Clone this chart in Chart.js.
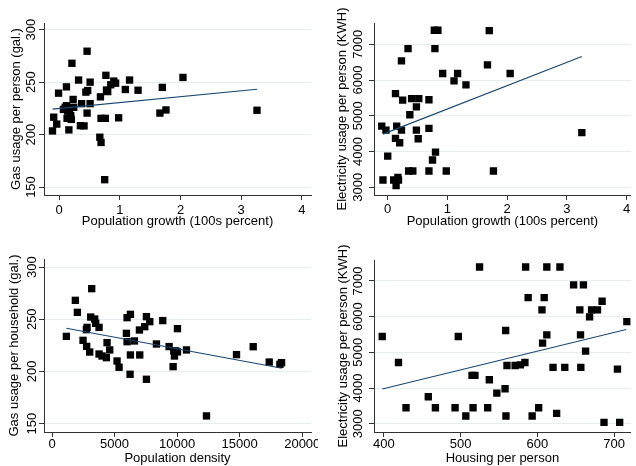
<!DOCTYPE html>
<html>
<head>
<meta charset="utf-8">
<script src="https://cdn.jsdelivr.net/npm/chart.js@4"></script>
<style>
  body { margin: 0; background: #fff; }
  #wrap { position: relative; width: 636px; height: 466px; }
  canvas { position: absolute; }
</style>
</head>
<body>
<div id="wrap">
  <canvas id="gasGrowth" width="318" height="233" style="left:0;top:0"></canvas>
  <canvas id="elecGrowth" width="318" height="233" style="left:318px;top:0"></canvas>
  <canvas id="gasDensity" width="318" height="233" style="left:0;top:233px"></canvas>
  <canvas id="elecHousing" width="318" height="233" style="left:318px;top:233px"></canvas>
</div>
<script>
// top left: population growth vs gas usage per person
const growthA = [0.46, 0.21, 0.77, 0.32, 0.51, 0.90, 0.93, 1.16, 2.04, 0.12, -0.01, 1.70, 1.09, 1.30, 0.47, 0.44,
  0.85, 0.78, 0.80, 0.68, 0.23, 0.37, 0.51, 0.12, 0.07, 0.24, 0.14, 0.17, 0.46, 1.66, 1.76, 3.26,
  0.69, 0.76, 0.98, -0.09, -0.04, -0.11, 0.16, 0.13, 0.20, 0.35, 0.41, 0.67, 0.69, 0.75, 0.10, 0.19];
const gasPerPerson = [279.5, 268, 256.5, 252, 250, 251, 249, 252, 254.5, 245.5, 239.5, 245, 243, 242.3, 242, 240.5,
  247.5, 242.5, 241, 236, 233.5, 229.5, 229.5, 227.5, 224, 226, 222.5, 219, 220.5, 220.5, 223.5, 223.2,
  215.5, 215.5, 216, 216.6, 210, 203.5, 204.5, 215.5, 214.5, 208.5, 208.3, 197.5, 192.5, 157, 226, 218];
const gasGrowthFit = [[-0.11, 224.3], [3.26, 243.3]];

// top right: population growth vs electricity usage per person
const growthB = [0.78, 0.84, 1.70, 0.34, 0.79, 0.23, 0.92, 1.17, 1.11, 1.31, 1.67, 2.05, 0.13, 0.25, 0.40, 0.52,
  0.69, 0.48, 0.37, -0.10, -0.03, 0.15, 0.23, 0.48, 0.69, 0.13, 0.20, 0.51, 0.00, 0.80, 0.75, 0.35,
  0.42, 0.69, 0.98, 1.77, -0.08, 0.10, 0.17, 0.14, 0.18, 3.25];
const elecPerPerson = [7390, 7390, 7381, 6879, 6879, 6535, 6182, 6182, 5977, 5865, 6423, 6182, 5620, 5440, 5480, 5480,
  5450, 5250, 5028, 4712, 4600, 4712, 4600, 4600, 4647, 4367, 4247, 4358, 3874, 3986, 3763, 3456,
  3456, 3456, 3456, 3456, 3205, 3205, 3280, 3050, 3200, 4530];
const elecGrowthFit = [[-0.08, 4488], [3.25, 6656]];

// bottom left: population density vs gas usage per household
const density = [3173, 1867, 2027, 1147, 3093, 3413, 3493, 3760, 2800, 2750, 2480, 2773, 3013, 3760, 4000, 4347,
  4400, 4613, 5200, 5360, 5947, 6000, 6267, 6240, 6000, 6267, 6587, 7013, 7547, 6987, 7413, 7547,
  7813, 8853, 8347, 9360, 10027, 9733, 9893, 9787, 9680, 10027, 10747, 14747, 16080, 17360, 18347, 18213, 12347];
const gasPerHousehold = [279.3, 268.1, 256.6, 233.6, 252.1, 250.2, 246.1, 242.2, 242.2, 240, 229.8, 224, 218.6, 216.7, 214.8, 213.2,
  227.6, 220.6, 210, 204, 236.5, 228.5, 215.8, 197.3, 251.5, 254.7, 229.2, 215.8, 192.5, 239.7, 242.9, 252.5,
  247.7, 248.7, 226.3, 223.8, 241, 219.6, 219.6, 214.8, 204.6, 218.7, 220.6, 216.1, 223.7, 209, 208.4, 206.8, 157.4];
const gasDensityFit = [[1147, 241.3], [18373, 203]];

// bottom right: housing per person vs electricity usage per person
const housing = [524.7, 584.7, 612.3, 629.4, 647.2, 660, 588, 608.9, 684.3, 606, 655.3, 670.6, 678.3, 668, 716.6, 397.9,
  497, 558.7, 612.3, 656.2, 606.8, 662.8, 419.1, 560.4, 571, 577.9, 583.8, 620.4, 635.7, 656.6, 704.3, 514.9,
  518.7, 537.4, 557.9, 457.9, 547.2, 428.9, 467.2, 492.8, 516.2, 535.3, 601.7, 506.8, 559.1, 593.2, 625.1, 686.8, 707.2];
const elecPerPerson2 = [7392, 7392, 7392, 7392, 6888, 6888, 6534, 6534, 6431, 6189, 6189, 6189, 6189, 5993, 5862, 5443,
  5443, 5611, 5490, 5490, 5256, 5033, 4716, 4632, 4632, 4650, 4716, 4576, 4576, 4576, 4529, 4352,
  4352, 4231, 3979, 3755, 3858, 3448, 3448, 3448, 3448, 3448, 3448, 3214, 3214, 3214, 3289, 3037, 3037];
const elecHousingFit = [[397.9, 3970], [715.7, 5639]];

const growthTicks = [0, 1, 2, 3, 4];
const gasTicks = [150, 200, 250, 300];
const elecTicks = [3000, 4000, 5000, 6000, 7000];
const densityTicks = [0, 5000, 10000, 15000, 20000];
const housingTicks = [400, 500, 600, 700];

const FONT = { family: '"Liberation Sans", Arial, sans-serif', size: 13 };
const AXIS = '#333333';

// y tick labels in this chart read bottom-to-top, so draw them rotated ourselves
const rotatedYLabels = {
  id: 'rotatedYLabels',
  afterDraw(chart, args, opts) {
    const y = chart.scales.y;
    const ctx = chart.ctx;
    ctx.save();
    ctx.fillStyle = '#000';
    ctx.font = FONT.size + 'px ' + FONT.family;
    ctx.textAlign = 'center';
    ctx.textBaseline = 'middle';
    y.ticks.forEach(t => {
      ctx.save();
      ctx.translate(y.right - opts.offset, y.getPixelForValue(t.value));
      ctx.rotate(-Math.PI / 2);
      ctx.fillText(String(t.value), 0, 0);
      ctx.restore();
    });
    ctx.restore();
  }
};

function scatterPanel(id, xs, ys, fit, c) {
  const points = xs.map((x, i) => ({ x: x, y: ys[i] }));
  return new Chart(document.getElementById(id), {
    type: 'scatter',
    data: {
      datasets: [
        { data: points, pointStyle: 'rect', pointRadius: 5.2, backgroundColor: '#000', borderWidth: 0, order: 1 },
        { data: fit.map(p => ({ x: p[0], y: p[1] })), showLine: true, borderColor: '#1a476f', borderWidth: 1.1,
          pointRadius: 0, fill: false, order: 0 }
      ]
    },
    options: {
      responsive: false,
      animation: false,
      layout: { padding: { top: c.top, right: c.right, left: 0, bottom: 0 } },
      plugins: {
        legend: { display: false },
        tooltip: { enabled: false },
        rotatedYLabels: { offset: c.yLabelOffset }
      },
      scales: {
        x: {
          type: 'linear', min: c.xMin, max: c.xMax,
          afterBuildTicks: s => { s.ticks = c.xTicks.map(v => ({ value: v })); },
          afterFit: s => { s.height = c.xH; s.paddingLeft = 0; s.paddingRight = 0; },
          border: { color: AXIS, width: 1 },
          grid: { drawOnChartArea: false, tickLength: 5, tickColor: AXIS, tickWidth: 1 },
          ticks: { color: '#000', font: FONT, padding: c.xPad, maxRotation: 0, callback: v => v },
          title: { display: true, text: c.xTitle, color: '#000', font: FONT, padding: { top: 0, bottom: c.xTitlePad } }
        },
        y: {
          type: 'linear', min: c.yMin, max: c.yMax,
          afterBuildTicks: s => { s.ticks = c.yTicks.map(v => ({ value: v })); },
          afterFit: s => { s.width = c.yW; s.paddingTop = 0; s.paddingBottom = 0; },
          border: { color: AXIS, width: 1 },
          grid: { color: '#e4eef0', lineWidth: 1, tickLength: 5, tickColor: AXIS, tickWidth: 1 },
          ticks: { display: false },
          title: { display: true, text: c.yTitle, color: '#000', font: FONT, padding: { top: c.yTitlePad, bottom: 0 } }
        }
      }
    },
    plugins: [rotatedYLabels]
  });
}

scatterPanel('gasGrowth', growthA, gasPerPerson, gasGrowthFit, {
  top: 23, right: 7, xH: 38, yW: 44,
  xMin: -0.25, xMax: 4.15, yMin: 142.4, yMax: 306.4,
  xTicks: growthTicks, yTicks: gasTicks,
  xPad: 3, xTitlePad: 4, yTitlePad: 8.7, yLabelOffset: 13,
  xTitle: 'Population growth (100s percent)', yTitle: 'Gas usage per person (gal.)'
});

scatterPanel('elecGrowth', growthB, elecPerPerson, elecGrowthFit, {
  top: 23, right: 0, xH: 38, yW: 56,
  xMin: -0.23, xMax: 4.07, yMin: 2786, yMax: 7594,
  xTicks: growthTicks, yTicks: elecTicks,
  xPad: 1.5, xTitlePad: 4, yTitlePad: 17, yLabelOffset: 16,
  xTitle: 'Population growth (100s percent)', yTitle: 'Electricity usage per person (KWH)'
});

scatterPanel('gasDensity', density, gasPerHousehold, gasDensityFit, {
  top: 26, right: 7, xH: 34, yW: 44,
  xMin: -640, xMax: 20700, yMin: 142, yMax: 307.7,
  xTicks: densityTicks, yTicks: gasTicks,
  xPad: 0, xTitlePad: 0, yTitlePad: 7, yLabelOffset: 12,
  xTitle: 'Population density', yTitle: 'Gas usage per household (gal.)'
});

scatterPanel('elecHousing', housing, elecPerPerson2, elecHousingFit, {
  top: 27, right: 0, xH: 34, yW: 56,
  xMin: 387.2, xMax: 721.7, yMin: 2767, yMax: 7587,
  xTicks: housingTicks, yTicks: elecTicks,
  xPad: 0, xTitlePad: 0, yTitlePad: 18, yLabelOffset: 16,
  xTitle: 'Housing per person', yTitle: 'Electricity usage per person (KWH)'
});
</script>
</body>
</html>
